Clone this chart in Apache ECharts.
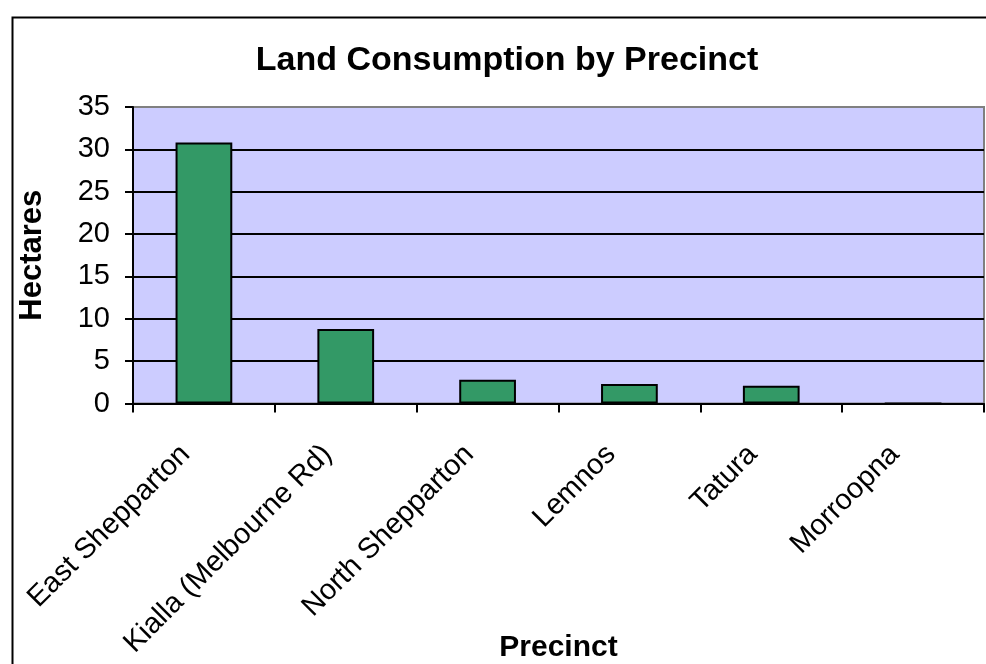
<!DOCTYPE html>
<html>
<head>
<meta charset="utf-8">
<script src="https://cdn.jsdelivr.net/npm/echarts@6/dist/echarts.min.js"></script>
<style>
html,body{margin:0;padding:0;background:#fff;}
#chart{width:986px;height:664px;}
</style>
</head>
<body>
<div id="chart"></div>
<script>
var categories = ['East Shepparton', 'Kialla (Melbourne Rd)', 'North Shepparton', 'Lemnos', 'Tatura', 'Morroopna'];
var hectares = [30.8, 8.8, 2.8, 2.3, 2.1, 0];
var yTicks = { min: 0, max: 35, interval: 5 };

var FONT = '"Liberation Sans", Arial, sans-serif';
var chart = echarts.init(document.getElementById('chart'), null, { renderer: 'canvas' });
chart.setOption({
  backgroundColor: '#ffffff',
  animation: false,
  graphic: [
    {
      type: 'rect',
      left: 10, top: 15,
      shape: { width: 1000, height: 700 },
      style: { fill: 'none', stroke: '#000', lineWidth: 2 },
      z: 100, silent: true
    },
    {
      type: 'text',
      x: 507, y: 61,
      style: {
        text: 'Land Consumption by Precinct',
        fontFamily: FONT, fontWeight: 'bold', fontSize: 34,
        fill: '#000', align: 'center', verticalAlign: 'middle'
      }
    }
  ],
  grid: {
    left: 133, right: 2, top: 107, bottom: 260.5,
    show: true, backgroundColor: '#CCCCFF', borderColor: '#808080', borderWidth: 2,
    containLabel: false,
    outerBoundsMode: 'none'
  },
  xAxis: {
    type: 'category',
    data: categories,
    boundaryGap: true,
    name: 'Precinct',
    nameLocation: 'middle',
    nameGap: 229,
    nameMoveOverlap: false,
    nameTextStyle: { fontFamily: FONT, fontWeight: 'bold', fontSize: 30, color: '#000' },
    axisLine: { show: true, lineStyle: { color: '#000', width: 2 } },
    axisTick: { show: true, length: 9, lineStyle: { color: '#000', width: 2 } },
    axisLabel: {
      interval: 0, rotate: 45, margin: 28, padding: [0, 26, 0, 0],
      fontFamily: FONT, fontSize: 29, color: '#000'
    },
    splitLine: { show: false }
  },
  yAxis: {
    type: 'value',
    min: yTicks.min, max: yTicks.max, interval: yTicks.interval,
    name: 'Hectares',
    nameLocation: 'middle',
    nameGap: 85,
    nameMoveOverlap: false,
    nameTextStyle: { fontFamily: FONT, fontWeight: 'bold', fontSize: 31, color: '#000' },
    axisLine: { show: true, lineStyle: { color: '#000', width: 2 } },
    axisTick: { show: true, length: 8, lineStyle: { color: '#000', width: 2 } },
    axisLabel: { margin: 23, fontFamily: FONT, fontSize: 29, color: '#000' },
    splitLine: { show: true, showMinLine: false, showMaxLine: false, lineStyle: { color: '#000', width: 2 } }
  },
  series: [{
    type: 'bar',
    data: hectares,
    barCategoryGap: '60%',
    itemStyle: { color: '#339966', borderColor: '#000', borderWidth: 2 }
  }]
});
</script>
</body>
</html>
